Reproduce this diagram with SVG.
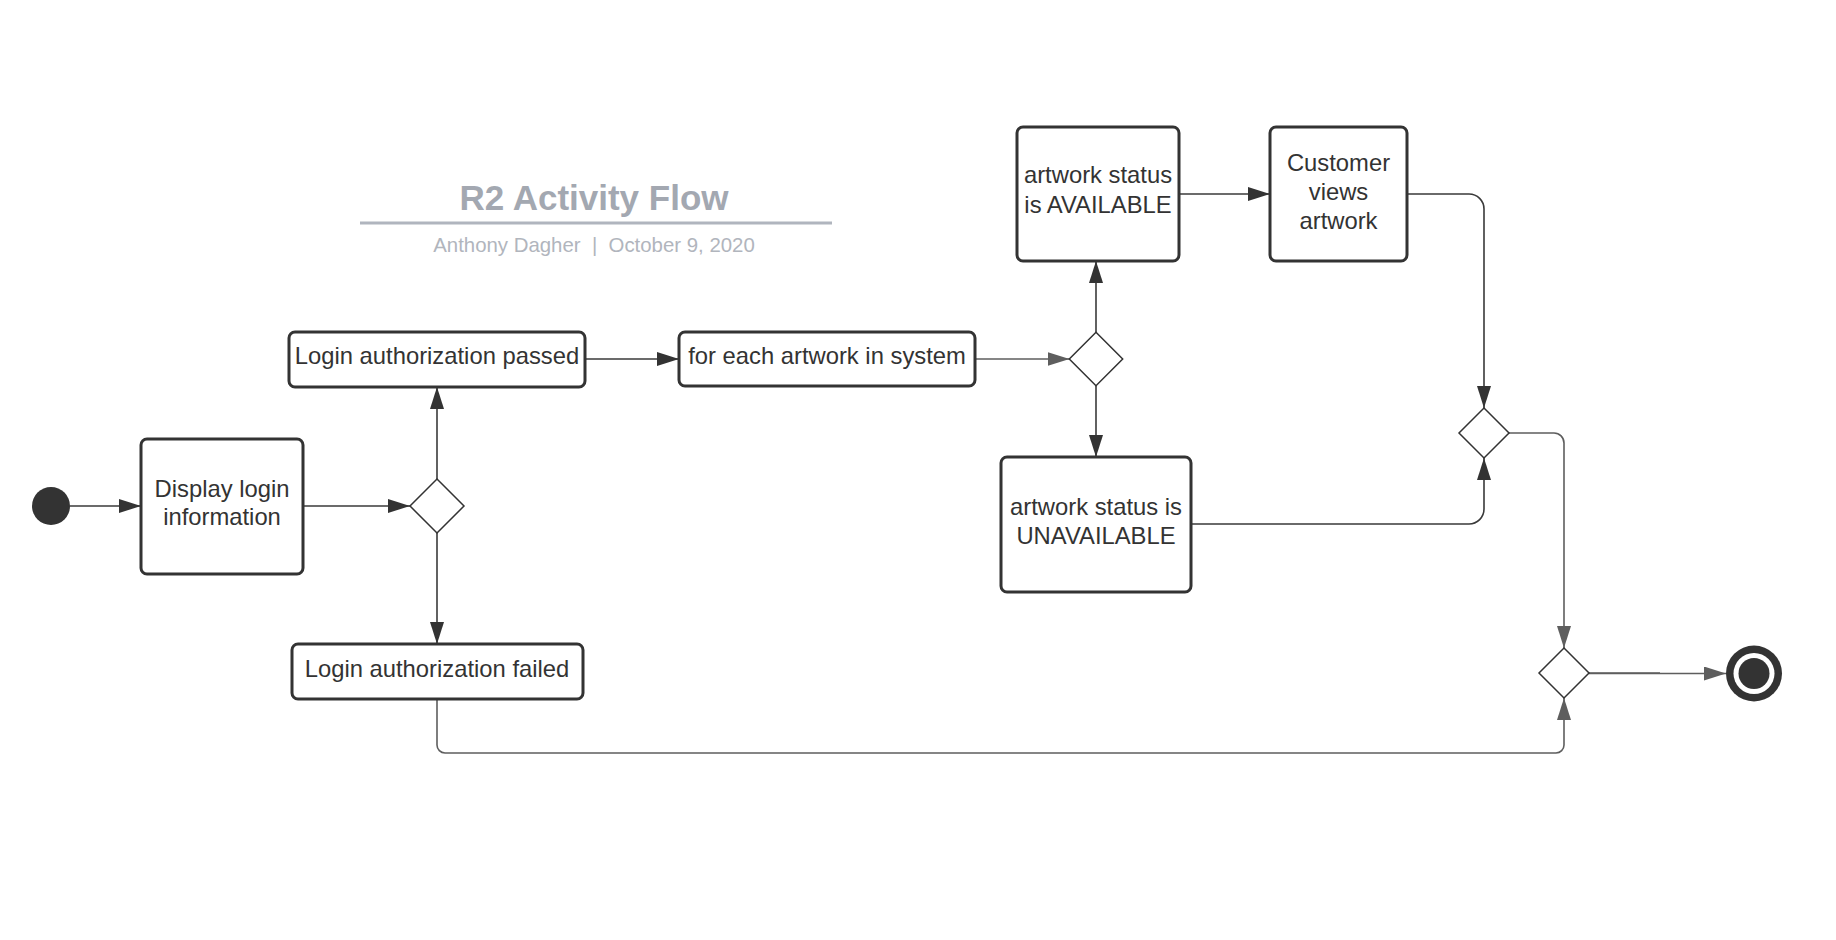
<svg xmlns="http://www.w3.org/2000/svg" width="1836" height="940" viewBox="0 0 1836 940">
<style>
.box{fill:#fff;stroke:#333;stroke-width:3}
.dia{fill:#fff;stroke:#333;stroke-width:1.5}
.lbl{font-family:"Liberation Sans",Arial,sans-serif;font-size:23.8px;fill:#333;text-anchor:middle}
.c{fill:none;stroke-width:1.6}
.cd{stroke:#3a3a3a}
.cg{stroke:#5e5e5e}
.title{font-family:"Liberation Sans",Arial,sans-serif;font-size:35px;font-weight:bold;fill:#a3a8b1;text-anchor:middle}
.sub{font-family:"Liberation Sans",Arial,sans-serif;font-size:20.4px;fill:#b1b5bd;text-anchor:middle}
</style>
<defs>
<marker id="ad" markerUnits="userSpaceOnUse" markerWidth="24" markerHeight="16" refX="22" refY="7" orient="auto">
<path d="M0,0 L22,7 L0,14 z" fill="#333"/>
</marker>
<marker id="ag" markerUnits="userSpaceOnUse" markerWidth="24" markerHeight="16" refX="22" refY="7" orient="auto">
<path d="M0,0 L22,7 L0,14 z" fill="#5e5e5e"/>
</marker>
</defs>
<rect width="1836" height="940" fill="#fff"/>
<g id="title">
<text class="title" x="594" y="210">R2 Activity Flow</text>
<line x1="360" y1="223" x2="832" y2="223" stroke="#b0b5be" stroke-width="3"/>
<text class="sub" x="594" y="252" xml:space="preserve">Anthony Dagher  |  October 9, 2020</text>
</g>
<g id="connectors">
<path class="c cd" d="M70,506 L141,506" marker-end="url(#ad)"/>
<path class="c cd" d="M303,506 L410,506" marker-end="url(#ad)"/>
<path class="c cd" d="M437,479 L437,387" marker-end="url(#ad)"/>
<path class="c cd" d="M437,533 L437,644" marker-end="url(#ad)"/>
<path class="c cd" d="M585,359 L679,359" marker-end="url(#ad)"/>
<path class="c cg" d="M975,359 L1069.5,359" stroke-width="2" marker-end="url(#ag)"/>
<path class="c cd" d="M1096,332 L1096,261" marker-end="url(#ad)"/>
<path class="c cd" d="M1096,385.5 L1096,457" marker-end="url(#ad)"/>
<path class="c cd" d="M1179,194 L1270,194" marker-end="url(#ad)"/>
<path class="c cd" d="M1407,194 L1469,194 A15,15 0 0 1 1484,209 L1484,408" marker-end="url(#ad)"/>
<path class="c cd" d="M1191,524 L1469,524 A15,15 0 0 0 1484,509 L1484,458" marker-end="url(#ad)"/>
<path class="c cg" d="M1509,433 L1554,433 A10,10 0 0 1 1564,443 L1564,648" marker-end="url(#ag)"/>
<path class="c cg" d="M437,699 L437,745 A8,8 0 0 0 445,753 L1556,753 A8,8 0 0 0 1564,745 L1564,698" marker-end="url(#ag)"/>
<path class="c cg" d="M1589,673 L1660,673" stroke-width="3"/>
<path class="c cg" d="M1589,673.5 L1726,673.5" stroke-width="2.2" marker-end="url(#ag)"/>
</g>
<g id="start">
<circle cx="51" cy="506" r="19" fill="#333"/>
</g>
<g id="display-login">
<rect class="box" x="141" y="439" width="162" height="135" rx="6"/>
<text class="lbl" x="222" y="497">Display login</text>
<text class="lbl" x="222" y="525">information</text>
</g>
<g id="decision-login">
<polygon class="dia" points="437,479 464,506 437,533 410,506"/>
</g>
<g id="login-passed">
<rect class="box" x="289" y="332" width="296" height="55" rx="6"/>
<text class="lbl" x="437" y="364">Login authorization passed</text>
</g>
<g id="login-failed">
<rect class="box" x="292" y="644" width="291" height="55" rx="6"/>
<text class="lbl" x="437" y="677">Login authorization failed</text>
</g>
<g id="for-each">
<rect class="box" x="679" y="332" width="296" height="54" rx="6"/>
<text class="lbl" x="827" y="364">for each artwork in system</text>
</g>
<g id="decision-status">
<polygon class="dia" points="1096,332.3 1122.7,359 1096,385.7 1069.3,359"/>
</g>
<g id="available">
<rect class="box" x="1017" y="127" width="162" height="134" rx="6"/>
<text class="lbl" x="1098" y="183">artwork status</text>
<text class="lbl" x="1098" y="212.5">is AVAILABLE</text>
</g>
<g id="unavailable">
<rect class="box" x="1001" y="457" width="190" height="135" rx="6"/>
<text class="lbl" x="1096" y="515">artwork status is</text>
<text class="lbl" x="1096" y="544">UNAVAILABLE</text>
</g>
<g id="customer-views">
<rect class="box" x="1270" y="127" width="137" height="134" rx="6"/>
<text class="lbl" x="1338.5" y="170.7">Customer</text>
<text class="lbl" x="1338.5" y="200">views</text>
<text class="lbl" x="1338.5" y="229.3">artwork</text>
</g>
<g id="merge-status">
<polygon class="dia" points="1484,408 1509,433 1484,458 1459,433"/>
</g>
<g id="merge-final">
<polygon class="dia" points="1564,648 1589,673 1564,698 1539,673"/>
</g>
<g id="end">
<circle cx="1754" cy="673.5" r="28" fill="#333"/>
<circle cx="1754" cy="673.5" r="20.5" fill="#fff"/>
<circle cx="1754" cy="673.5" r="15.5" fill="#333"/>
</g>
</svg>
